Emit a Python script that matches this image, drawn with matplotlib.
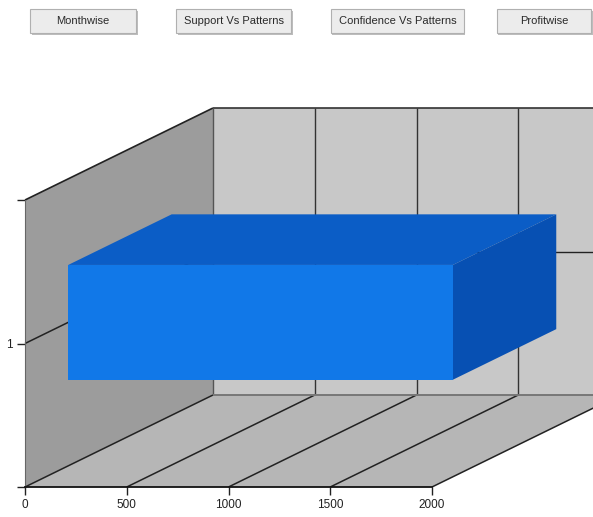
import matplotlib
matplotlib.use('Agg')
import matplotlib.pyplot as plt
from matplotlib.patches import Polygon, Rectangle

# Data
categories = [1]
values = [1890]
x_ticks = [0, 500, 1000, 1500, 2000]
buttons = ['Monthwise', 'Support Vs Patterns', 'Confidence Vs Patterns', 'Profitwise']

plt.rcParams['font.family'] = ['Liberation Sans Narrow', 'Liberation Sans', 'DejaVu Sans']

W, H = 593, 517
fig = plt.figure(figsize=(W / 100, H / 100), dpi=100)
fig.patch.set_facecolor('white')

# front plane of the 3D box, in pixels
left_px, right_px, bot_px, top_px = 25, 432, 487, 200
ax = fig.add_axes([left_px / W, (H - bot_px) / H, (right_px - left_px) / W, (bot_px - top_px) / H])
xmax = x_ticks[-1]
ax.set_xlim(0, xmax)
ax.set_ylim(0.5, 1.5)
ax.patch.set_visible(False)

# depth offset (oblique projection) in data units
D = 188 / (right_px - left_px) * xmax
E = 92 / (bot_px - top_px)

wall_left = '#9c9c9c'
wall_back = '#c8c8c8'
floor_c = '#b6b6b6'

def poly(pts, color, z, **kw):
    ax.add_patch(Polygon(pts, closed=True, facecolor=color, edgecolor='none',
                         zorder=z, clip_on=False, **kw))

def line(xs, ys, color='#222222', lw=1.0, z=3):
    ax.plot(xs, ys, color=color, lw=lw, zorder=z, clip_on=False, solid_capstyle='butt')

# walls
poly([(0, 0.5), (D, 0.5 + E), (D, 1.5 + E), (0, 1.5)], wall_left, 1)
poly([(D, 0.5 + E), (xmax + D, 0.5 + E), (xmax + D, 1.5 + E), (D, 1.5 + E)], wall_back, 1)
poly([(0, 0.5), (xmax, 0.5), (xmax + D, 0.5 + E), (D, 0.5 + E)], floor_c, 1)

# grid lines on back wall and floor
for t in x_ticks[1:]:
    line([t + D, t + D], [0.5 + E, 1.5 + E], '#333333', 1.0, 2)
for t in x_ticks:
    line([t, t + D], [0.5, 0.5 + E], '#222222', 1.1, 2)
for c in categories:
    line([0, D], [c, c + E], '#222222', 1.1, 2)
    line([D, xmax + D], [c + E, c + E], '#222222', 1.0, 2)

# box edges
line([0, D], [1.5, 1.5 + E], '#222222', 1.2, 2)
line([D, xmax + D], [1.5 + E, 1.5 + E], '#333333', 1.2, 2)
line([D, D], [0.5 + E, 1.5 + E], '#555555', 1.0, 2)
line([D, xmax + D], [0.5 + E, 0.5 + E], '#777777', 1.4, 2)

# 3D bars
f1, f2, bw = 0.23, 0.78, 0.4
front_c, top_c, side_c = '#1178e8', '#0b5dc6', '#0750b3'
for c, v in zip(categories, values):
    y0, y1 = c - bw / 2, c + bw / 2
    poly([(f1 * D, y1 + f1 * E), (v + f1 * D, y1 + f1 * E),
          (v + f2 * D, y1 + f2 * E), (f2 * D, y1 + f2 * E)], top_c, 5)
    poly([(v + f1 * D, y0 + f1 * E), (v + f2 * D, y0 + f2 * E),
          (v + f2 * D, y1 + f2 * E), (v + f1 * D, y1 + f1 * E)], side_c, 5)
    poly([(f1 * D, y0 + f1 * E), (v + f1 * D, y0 + f1 * E),
          (v + f1 * D, y1 + f1 * E), (f1 * D, y1 + f1 * E)], front_c, 6)

# axes
for s in ['top', 'right']:
    ax.spines[s].set_visible(False)
ax.spines['bottom'].set_color('#111111')
ax.spines['bottom'].set_linewidth(1.3)
ax.spines['bottom'].set_zorder(4)
ax.spines['left'].set_color('#666666')
ax.spines['left'].set_linewidth(0.8)
ax.set_xticks(x_ticks)
ax.set_xticklabels([str(t) for t in x_ticks])
ax.set_yticks([0.5] + categories + [1.5])
ax.set_yticklabels([''] + [str(c) for c in categories] + [''])
ax.tick_params(axis='both', direction='out', length=6, width=1, color='#222222',
               labelsize=8.5, labelcolor='#222222', pad=3)

# buttons on top
btn_boxes = [(30, 136), (176, 291), (331, 464), (497, 591)]
for label, (x0, x1) in zip(buttons, btn_boxes):
    y0, y1 = 9, 33
    fig.patches.append(Rectangle((x0 / W + 1.5 / W, 1 - (y1 + 2) / H), (x1 - x0) / W, (y1 - y0) / H,
                                 transform=fig.transFigure, facecolor='#bdbdbd', edgecolor='none', zorder=1))
    fig.patches.append(Rectangle((x0 / W, 1 - y1 / H), (x1 - x0) / W, (y1 - y0) / H,
                                 transform=fig.transFigure, facecolor='#ececec', edgecolor='#b0b0b0',
                                 linewidth=0.8, zorder=2))
    fig.text((x0 + x1) / 2 / W, 1 - (y0 + y1) / 2 / H, label, ha='center', va='center',
             fontsize=8, color='#2a2a2a', zorder=3)

fig.savefig('out.png', dpi=100)
